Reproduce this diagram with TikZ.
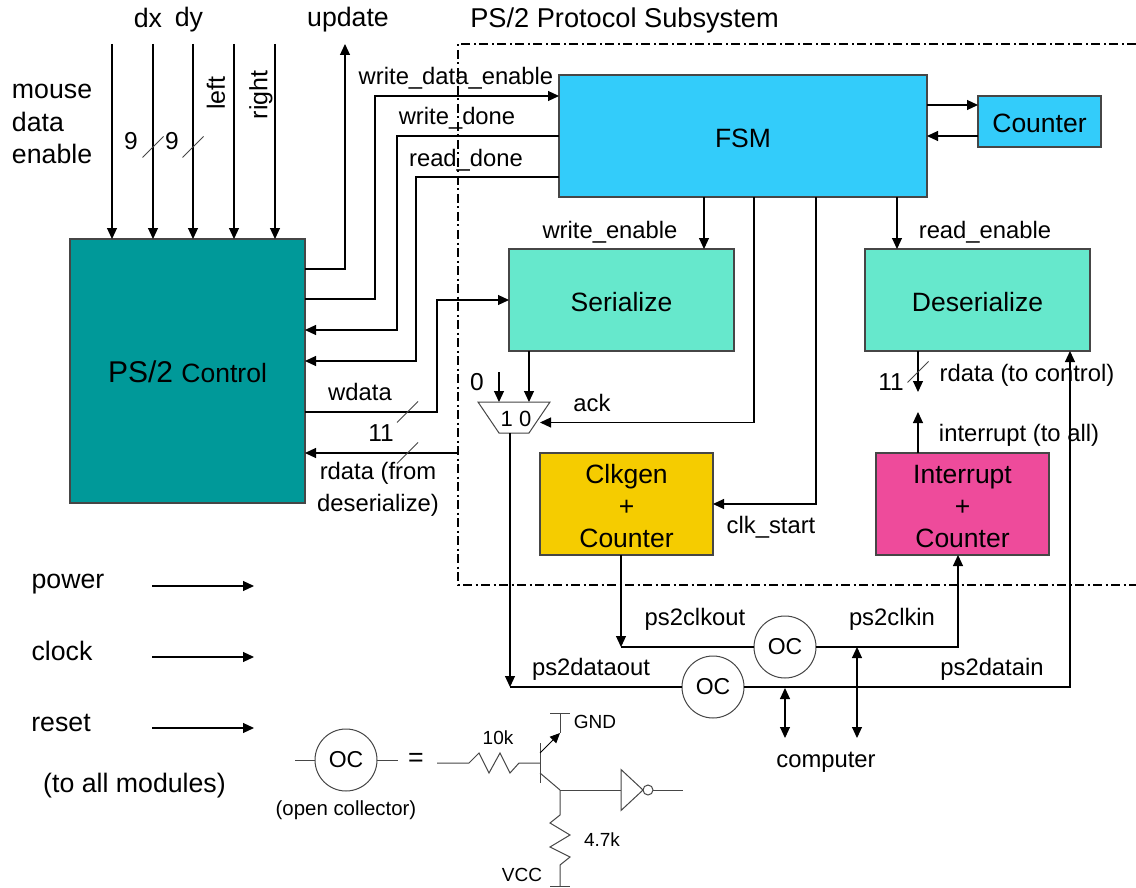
\documentclass[tikz,border=0pt]{standalone}
\usepackage{fontspec}
\setmainfont{Liberation Sans}
\usetikzlibrary{shapes.geometric, arrows.meta, positioning, calc}
\definecolor{ctrlteal}{RGB}{0, 153, 153}
\definecolor{fsmblue}{RGB}{51, 204, 250}
\definecolor{serialmint}{RGB}{102, 232, 204}
\definecolor{clkgold}{RGB}{245, 204, 0}
\definecolor{intrpink}{RGB}{238, 75, 155}
\definecolor{edge}{RGB}{70, 70, 70}
\tikzset{
    box/.style={rectangle, draw=edge, line width=1.1pt, align=center, outer sep=0pt, inner sep=0pt, font=\fontsize{26.5}{32}\selectfont, execute at begin node={\rule{0pt}{23pt}}},
    tallbox/.style={rectangle, draw=edge, line width=1.1pt, align=center, outer sep=0pt, inner sep=0pt, minimum width=173pt, minimum height=102pt, font=\fontsize{26.5}{32}\selectfont},
    lbl/.style={inner sep=0pt, outer sep=0pt, align=center, font=\fontsize{23.8}{32}\selectfont},
    big/.style={inner sep=0pt, outer sep=0pt, align=center, font=\fontsize{26.7}{32.5}\selectfont},
    num/.style={inner sep=0pt, outer sep=0pt, font=\fontsize{24.5}{28}\selectfont},
    small/.style={inner sep=0pt, outer sep=0pt, align=center, font=\fontsize{19}{22}\selectfont},
    oc/.style={circle, draw=edge, line width=1pt, minimum size=62pt, inner sep=0pt, outer sep=0pt, font=\fontsize{23}{26}\selectfont},
    wire/.style={line width=1.1pt, black},
    arr/.style={-{Triangle[length=11pt,width=10pt]}, wire},
    dblarr/.style={{Triangle[length=11pt,width=10pt]}-{Triangle[length=11pt,width=10pt]}, wire},
    part/.style={line width=1pt, edge},
    tickmark/.style={line width=0.8pt, edge},
    region/.style={line width=1.3pt, dash pattern=on 9pt off 3.5pt on 2pt off 3.5pt, black}
}
\begin{document}
\begin{tikzpicture}[x=1pt, y=-1pt]
\path[use as bounding box, fill=white] (0,0) rectangle (1136,888);
% blocks
\node[box, fill=ctrlteal, minimum width=235pt, minimum height=264pt] (ctrl) at (187.5,371) {\fontsize{30}{32}\selectfont PS/2 \fontsize{26.5}{32}\selectfont Control};
\node[box, fill=fsmblue, minimum width=368pt, minimum height=122pt] (fsm) at (743,136) {FSM};
\node[box, fill=fsmblue, minimum width=123pt, minimum height=51pt] (cnt) at (1039.5,121.5) {Counter};
\node[box, fill=serialmint, minimum width=225pt, minimum height=102pt] (ser) at (621.5,300) {Serialize};
\node[box, fill=serialmint, minimum width=225pt, minimum height=102pt] (des) at (977.5,300) {Deserialize};
\node[tallbox, fill=clkgold] (clk) at (626.5,504) {\rule{0pt}{23pt}Clkgen\\+\\Counter};
\node[tallbox, fill=intrpink] (intr) at (962.5,504) {\rule{0pt}{23pt}Interrupt\\+\\Counter};
\node[rectangle, minimum width=72pt, minimum height=31pt, inner sep=0pt, outer sep=0pt, font=\fontsize{22}{24}\selectfont] (mux) at (514,417.5) {\hspace*{4pt}\rule{0pt}{19pt}1 0};
\draw[part] (mux.north west) -- (mux.north east) -- ([xshift=-21pt]mux.south east) -- ([xshift=21pt]mux.south west) -- cycle;
\node[oc] (occlk) at (785,647) {OC};
\node[oc] (ocdata) at (713,687) {OC};
\node[oc] (ocleg) at (346,760) {OC};
% free ends
\coordinate (dxtop) at (112,44);
\coordinate (dytop) at (153,44);
\coordinate (lefttop) at (193,44);
\coordinate (righttop) at (234,44);
\coordinate (extratop) at (275,44);
\coordinate (updtop) at (345,44);
\coordinate (wdebend) at (375,96);
\coordinate (wdbend) at (397,330);
\coordinate (rdbend) at (416,361);
\coordinate (wbend) at (437,300);
\coordinate (rdtail) at (458,453);
\coordinate (zerotop) at (499,372);
\coordinate (dataend) at (510,687);
\coordinate (clkend) at (621,647);
\coordinate (rdend) at (918,392);
\coordinate (intend) at (918,412);
\coordinate (pca) at (785,688);
\coordinate (pcb) at (785,738);
\coordinate (pcc) at (857,647);
\coordinate (pcd) at (857,738);
\coordinate (powa) at (152,586);
\coordinate (powb) at (254,586);
\coordinate (clka) at (152,657);
\coordinate (clkb) at (254,657);
\coordinate (rsta) at (152,728);
\coordinate (rstb) at (254,728);
% mouse inputs
\draw[arr] (dxtop) -- (dxtop |- ctrl.north);
\draw[arr] (dytop) -- (dytop |- ctrl.north);
\draw[arr] (lefttop) -- (lefttop |- ctrl.north);
\draw[arr] (righttop) -- (righttop |- ctrl.north);
\draw[arr] (extratop) -- (extratop |- ctrl.north);
% control <-> subsystem
\draw[arr] ([yshift=102pt]ctrl.east) -| (updtop);
\draw[arr] ([yshift=72pt]ctrl.east) -| (wdebend) -- ([yshift=40pt]fsm.west);
\draw[arr] (fsm.west) -| (wdbend) -- ([yshift=41pt]ctrl.east);
\draw[arr] ([yshift=-41pt]fsm.west) -| (rdbend) -- ([yshift=10pt]ctrl.east);
\draw[arr] ([yshift=-41pt]ctrl.east) -| (wbend) -- (ser.west);
\draw[arr] (rdtail) -- ([yshift=-82pt]ctrl.east);
% fsm
\draw[arr] ([yshift=31pt]fsm.east) -- ([yshift=16.5pt]cnt.west);
\draw[arr] ([yshift=-14.5pt]cnt.west) -- (fsm.east);
\draw[arr] ([xshift=-39pt]fsm.south) -- ([xshift=82.5pt]ser.north);
\draw[arr] ([xshift=154pt]fsm.south) -- ([xshift=-80.5pt]des.north);
\draw[arr] ([xshift=11pt]fsm.south) |- ([xshift=-10pt,yshift=-5pt]mux.east);
\draw[arr] ([xshift=73pt]fsm.south) |- (clk.east);
% mux
\draw[arr] (zerotop) -- ([xshift=-15pt]mux.north);
\draw[arr] ([xshift=-92.5pt]ser.south) -- ([xshift=15pt]mux.north);
\draw[arr] ([xshift=-4pt]mux.south) -- (dataend);
\draw[wire] (dataend) -- (ocdata.west);
% ps2 lines
\draw[arr] ([xshift=-5.5pt]clk.south) -- (clkend);
\draw[wire] (clkend) -- (occlk.west);
\draw[arr] (occlk.east) -| ([xshift=-4.5pt]intr.south);
\draw[arr] (ocdata.east) -| ([xshift=92.5pt]des.south);
\draw[dblarr] (pca) -- (pcb);
\draw[dblarr] (pcc) -- (pcd);
\draw[arr] ([xshift=-59.5pt]des.south) -- (rdend);
\draw[arr] ([xshift=-44.5pt]intr.north) -- (intend);
% global signals
\draw[arr] (powa) -- (powb);
\draw[arr] (clka) -- (clkb);
\draw[arr] (rsta) -- (rstb);
% bus ticks
\coordinate (dxtick) at (153,147);
\coordinate (dytick) at (193,147);
\coordinate (wdtick) at (407.5,412);
\coordinate (rdtick) at (407.5,453);
\coordinate (rstick) at (918,372);
\draw[tickmark] (dxtick) ++(-10.5,10.5) -- ++(21,-21);
\draw[tickmark] (dytick) ++(-10.5,10.5) -- ++(21,-21);
\draw[tickmark] (wdtick) ++(-10.5,10.5) -- ++(21,-21);
\draw[tickmark] (rdtick) ++(-10.5,10.5) -- ++(21,-21);
\draw[tickmark] (rstick) ++(-10.5,10.5) -- ++(21,-21);
% protocol subsystem outline
\coordinate (regtr) at (1136,44);
\coordinate (regtl) at (458,44);
\coordinate (regbl) at (458,585);
\coordinate (regbr) at (1136,585);
\draw[region] (regtr) -- (regtl) -- (regbl) -- (regbr);
% open collector legend
\coordinate (legl) at (295,760);
\coordinate (legr) at (398,760);
\coordinate (rin) at (437,763);
\coordinate (base) at (540,763);
\coordinate (emit) at (560,733);
\coordinate (gnd) at (560,713);
\coordinate (coll) at (560,790);
\coordinate (vcc) at (560,886);
\coordinate (invout) at (683,790);
\node[isosceles triangle, isosceles triangle stretches, draw=edge, line width=1pt, minimum width=41pt, minimum height=22pt, inner sep=0pt, outer sep=0pt, anchor=lower side] (inv) at (621,790) {};
\node[circle, draw=edge, line width=1pt, minimum size=10pt, inner sep=0pt, outer sep=0pt, right=0pt of inv.apex] (bubble) {};
\draw[part] (legl) -- (ocleg.west);
\draw[part] (ocleg.east) -- (legr);
\draw[part] (rin) -- ++(32,0) -- ++(10,-10) -- ++(10,20) -- ++(11,-20) -- ++(10,20) -- ++(9,-10) -- (base);
\draw[part] ([yshift=20pt]base) -- ([yshift=-20pt]base);
\draw[part, black, -{Triangle[length=10pt,width=9pt]}] ([yshift=10pt]base) -- (emit);
\draw[part] (emit) -- (gnd);
\draw[part] ([xshift=-10pt]gnd) -- ([xshift=10pt]gnd);
\draw[part] ([yshift=-10pt]base) -- (coll);
\draw[part] (coll) -- (inv.lower side);
\draw[part] (bubble.east) -- (invout);
\draw[part] (coll) -- ++(0,25) -- ++(-10,8) -- ++(20,12) -- ++(-20,12) -- ++(20,10) -- ++(-10,8) -- (vcc);
\draw[part] ([xshift=-10pt]vcc) -- ([xshift=10pt]vcc);
% labels
\node[big, align=left, anchor=west] (mouselbl) at (12,124) {mouse\\data\\enable};
\node[big] (dxlbl) at (148,17.5) {dx};
\node[big] (dylbl) at (189,20) {dy};
\node[big] (updlbl) at (348,20) {update};
\node[big, font=\fontsize{27.2}{32}\selectfont] (titlelbl) at (624.5,20) {PS/2 Protocol Subsystem};
\node[lbl, font=\fontsize{25}{32}\selectfont, rotate=90] (leftlbl) at (216,93) {left};
\node[lbl, font=\fontsize{25}{32}\selectfont, rotate=90] (rightlbl) at (261,95) {right};
\node[num] (ninea) at (131,141) {9};
\node[num] (nineb) at (172,141) {9};
\node[lbl] (wdelbl) at (456,78) {write\_data\_enable};
\node[lbl] (wdlbl) at (457,118) {write\_done};
\node[lbl] (rdlbl) at (466,160) {read\_done};
\node[lbl] (welbl) at (610,232) {write\_enable};
\node[lbl] (relbl) at (985,232) {read\_enable};
\node[lbl] (wdatalbl) at (360,392) {wdata};
\node[num] (elevena) at (381,433) {11};
\node[lbl] (rdatalbl) at (378,489) {rdata (from\\deserialize)};
\node[num] (zerolbl) at (477,382) {0};
\node[lbl] (acklbl) at (592,403) {ack};
\node[lbl] (clkstlbl) at (771,527) {clk\_start};
\node[num] (elevenb) at (891,382) {11};
\node[lbl] (rstolbl) at (1027,375) {rdata (to control)};
\node[lbl] (intlbl) at (1019,435) {interrupt (to all)};
\node[lbl] (ckoutlbl) at (695,619) {ps2clkout};
\node[lbl] (ckinlbl) at (892,619) {ps2clkin};
\node[lbl] (doutlbl) at (591,669) {ps2dataout};
\node[lbl] (dinlbl) at (992,669) {ps2datain};
\node[lbl] (complbl) at (826,762) {computer};
\node[big] (powlbl) at (68,584.5) {power};
\node[big] (clklbl) at (62,650.5) {clock};
\node[big] (rstlbl) at (61,723) {reset};
\node[big] (alllbl) at (134.5,786) {(to all modules)};
\node[big] (eqlbl) at (416,760) {=};
\node[small, font=\fontsize{20.4}{22}\selectfont] (openlbl) at (346,810) {(open collector)};
\node[small] (tenlbl) at (498,738) {10k};
\node[small] (gndlbl) at (595,722) {GND};
\node[small] (fourlbl) at (602,840) {4.7k};
\node[small] (vcclbl) at (522,875) {VCC};
\end{tikzpicture}
\end{document}
